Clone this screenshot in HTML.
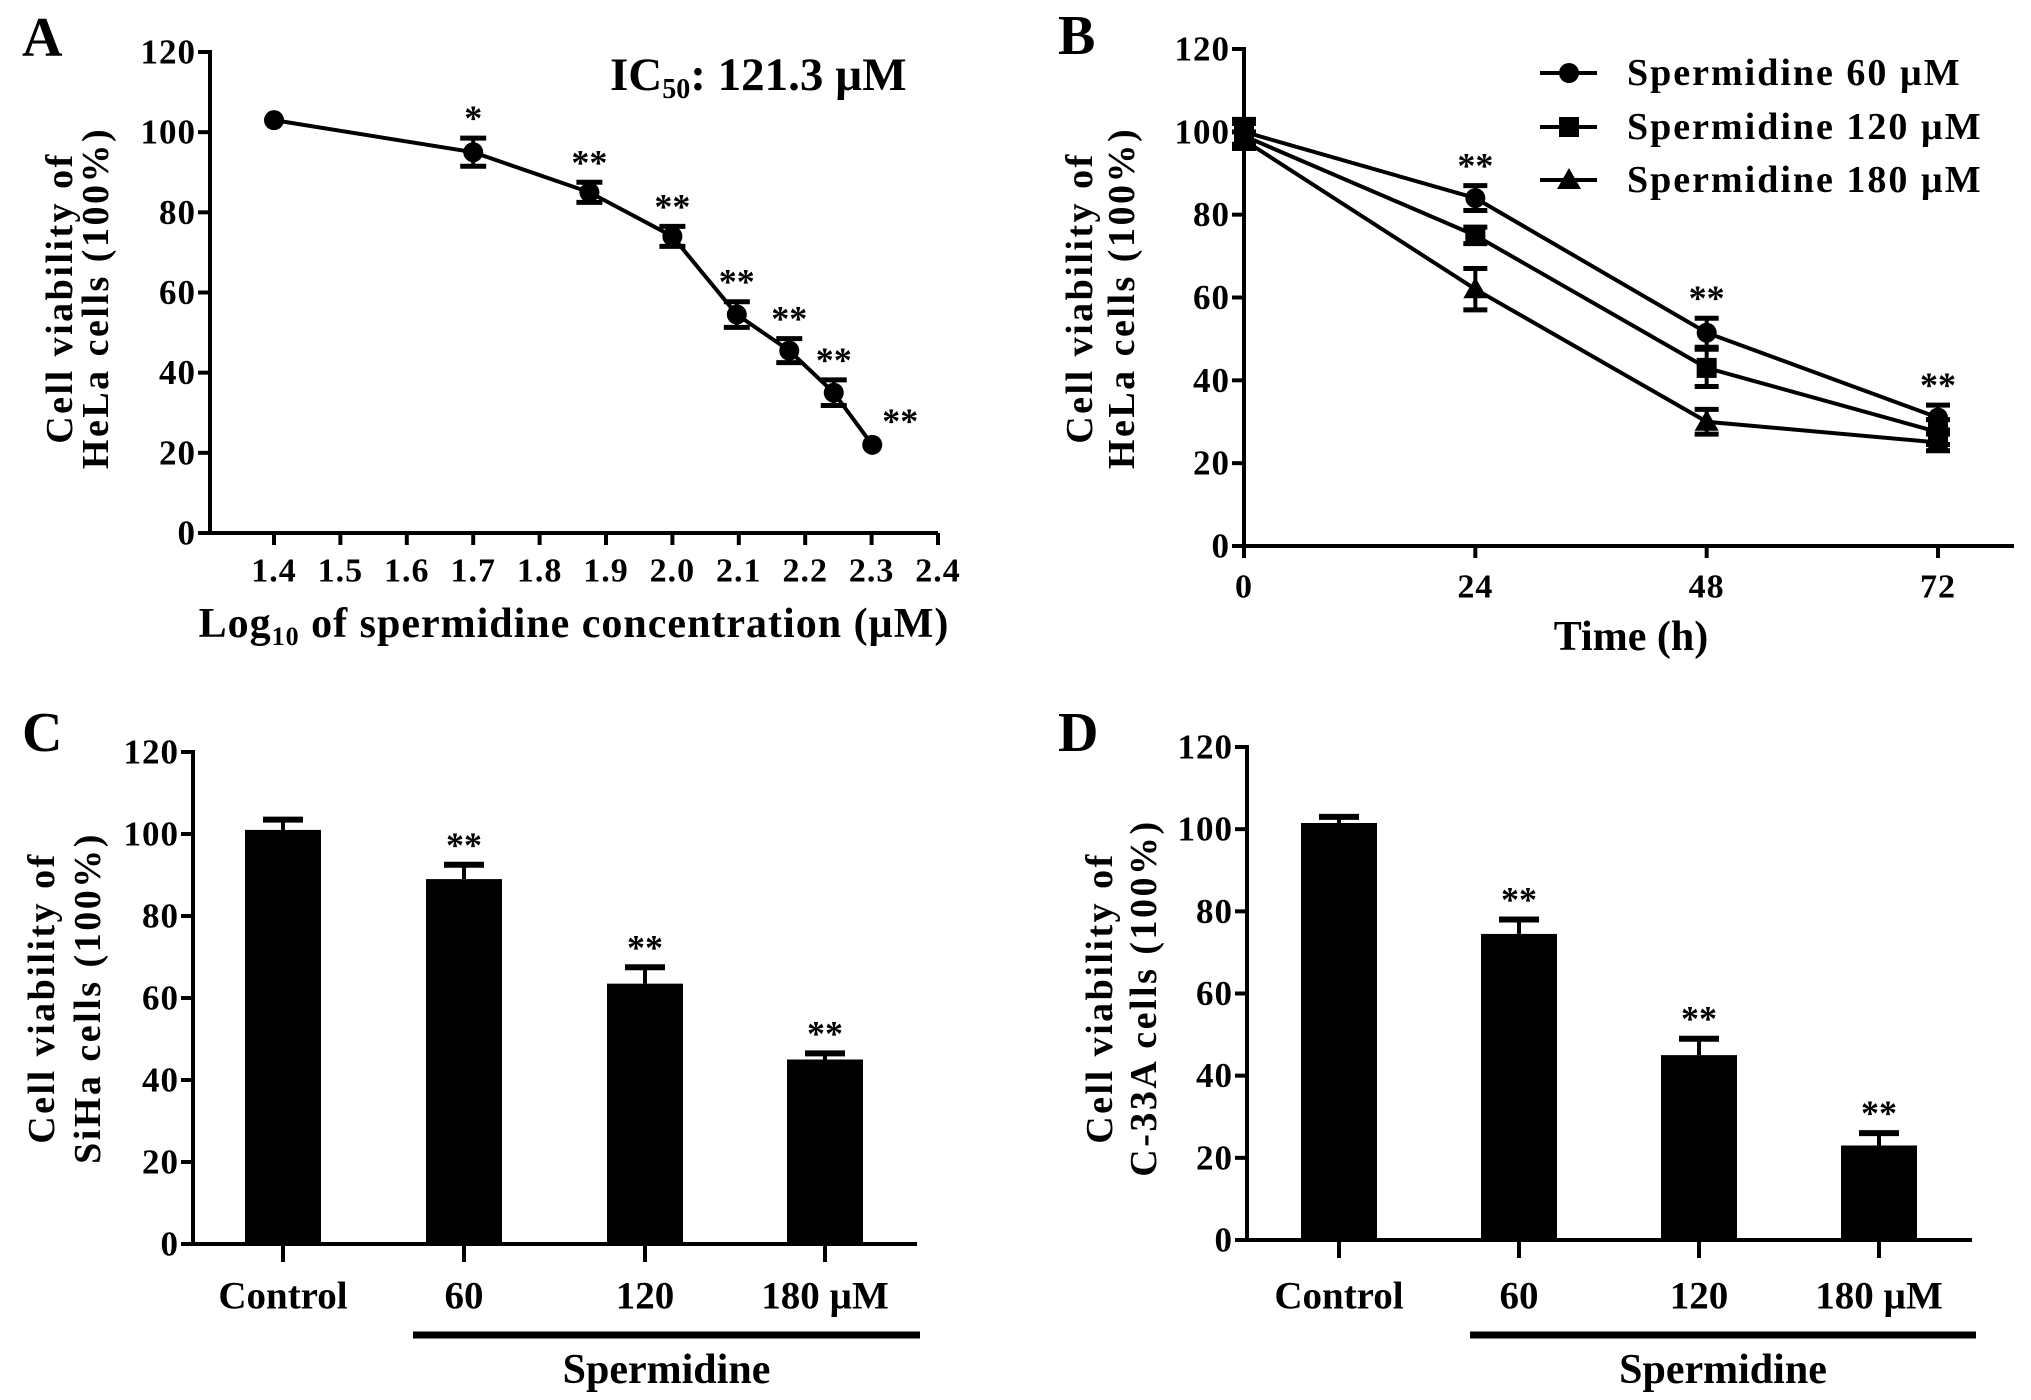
<!DOCTYPE html>
<html><head><meta charset="utf-8"><style>
html,body{margin:0;padding:0;background:#fff;}
svg{display:block;}
text{font-family:"Liberation Serif",serif;font-weight:bold;fill:#000;}
</style></head><body>
<svg id="fig" width="2031" height="1400" viewBox="0 0 2031 1400" xmlns="http://www.w3.org/2000/svg"></svg>
<script>
// Panel A data
const aX = [1.4, 1.7, 1.875, 2.0, 2.097, 2.176, 2.243, 2.301];
const aY = [103, 95, 85, 74, 54.5, 45.5, 35, 22];
const aErr = [0, 3.5, 2.5, 2.5, 3.2, 3, 3.2, 0];
const aSig = ["", "*", "**", "**", "**", "**", "**", "**"];
const aXTicks = ["1.4","1.5","1.6","1.7","1.8","1.9","2.0","2.1","2.2","2.3","2.4"];
const yTicks = [0,20,40,60,80,100,120];
// Panel B data
const bTimes = [0, 24, 48, 72];
const b60 = [100, 84, 51.5, 31];
const b120 = [99, 75, 43, 27.5];
const b180 = [98, 62, 30, 25];
const b60Err = [3, 3, 3.5, 3];
const b120Err = [3, 2, 4.5, 3];
const b180Err = [2, 5, 3, 2];
const bSig = ["", "**", "**", "**"];
// Panel C data
const cats = ["Control", "60", "120", "180 \u00b5M"];
const cVals = [101, 89, 63.5, 45];
const cErr = [2.5, 3.5, 4, 1.5];
const cSig = ["", "**", "**", "**"];
// Panel D data
const dVals = [101.5, 74.5, 45, 23];
const dErr = [1.5, 3.5, 4, 3];
const dSig = ["", "**", "**", "**"];

const NS = "http://www.w3.org/2000/svg";
const svg = document.getElementById("fig");
function el(tag, attrs, parent){ const e=document.createElementNS(NS,tag); for(const k in attrs) e.setAttribute(k,attrs[k]); (parent||svg).appendChild(e); return e; }
function txt(s, x, y, size, anchor, parent, extra){ const t=el("text",Object.assign({x:x,y:y,"font-size":size,"text-anchor":anchor||"middle","dominant-baseline":"central"},extra||{}),parent); t.textContent=s; return t; }
function line(x1,y1,x2,y2,w,parent){ return el("line",{x1:x1,y1:y1,x2:x2,y2:y2,stroke:"#000","stroke-width":w||4},parent); }

function yAxis(g, ax, y0, y120, xEnd){
  const sy = v => y0 + (y120-y0)*v/120;
  line(ax, y120-2, ax, y0+2, 4, g);
  line(ax-2, y0, xEnd, y0, 4, g);
  yTicks.forEach(v=>{
    line(ax-12, sy(v), ax, sy(v), 4, g);
    const t = txt(String(v), ax-14, sy(v), 35, "end", g, {"letter-spacing":"1"});
    
    
  });
  return sy;
}
function yTitle(g, l1, l2, x1, x2, cy){
  const t1 = txt(l1, 0, 0, 38, "middle", g, {transform:`translate(${x1},${cy}) rotate(-90)`, "letter-spacing":"2.5"});
  
  
  const t2 = txt(l2, 0, 0, 38, "middle", g, {transform:`translate(${x2},${cy}) rotate(-90)`, "letter-spacing":"2.5"});
  
  
}
function errBar(g, x, yTop, yBot, cap){
  line(x, yTop, x, yBot, 4, g);
  line(x-cap, yTop, x+cap, yTop, 5, g);
  line(x-cap, yBot, x+cap, yBot, 5, g);
}
function panelLetter(s, x, y){ const t=txt(s,x,y,56,"start",svg);   }

// ---------- Panel A ----------
(function(){
  const g = el("g",{});
  
  
  const ax=210, y0=533, y120=52;
  const sy = yAxis(g, ax, y0, y120, 938);
  const sx = v => 274 + (v-1.4)/1.0*(938-274);
  aXTicks.forEach(s=>{ const v=parseFloat(s); line(sx(v), y0, sx(v), y0+12, 4, g);
    const t=txt(s, sx(v), 571, 34, "middle", g, {"letter-spacing":"1"});
    
     });
  const xt = el("text",{x:574,y:624,"font-size":42,"text-anchor":"middle","dominant-baseline":"central","letter-spacing":"1"},g);
  xt.innerHTML = 'Log<tspan font-size="26" dy="12">10</tspan><tspan dy="-12"> of spermidine concentration (\u00b5M)</tspan>';
  
  
  yTitle(g, "Cell viability of", "HeLa cells (100%)", 60, 96, 298);
  const ic = el("text",{x:610,y:75,"font-size":47,"text-anchor":"start","dominant-baseline":"central"},g);
  ic.innerHTML = 'IC<tspan font-size="28" dy="14">50</tspan><tspan dy="-14">:  121.3 \u00b5M</tspan>';
  
  
  const pts = aX.map((x,i)=>sx(x)+","+sy(aY[i])).join(" ");
  const pl = el("polyline",{points:pts,fill:"none",stroke:"#000","stroke-width":4},g);
  
  
  aX.forEach((x,i)=>{
    const cx=sx(x), cy=sy(aY[i]);
    if(aErr[i]>0) errBar(g, cx, sy(aY[i]+aErr[i]), sy(aY[i]-aErr[i]), 13);
    const c = el("circle",{cx:cx,cy:cy,r:10,fill:"#000"},g);
    
    
    if(aSig[i]){ const last = i===aX.length-1;
      const t=txt(aSig[i], last?cx+28:cx, last?cy-24:sy(aY[i]+aErr[i])-20, 36, "middle", g);
      
       }
  });
})();
panelLetter("A", 22, 38);

// ---------- Panel B ----------
(function(){
  const g = el("g",{});
  
  
  const ax=1244, y0=546, y120=49;
  const sy = yAxis(g, ax, y0, y120, 2014);
  const sx = t => 1244 + t/72*(1938-1244);
  bTimes.forEach(t=>{ line(sx(t), y0, sx(t), y0+12, 4, g);
    const l=txt(String(t), sx(t), 587, 34, "middle", g, {"letter-spacing":"1"});
    
     });
  const xt=txt("Time (h)", 1631, 637, 42, "middle", g);
  
  
  yTitle(g, "Cell viability of", "HeLa cells (100%)", 1080, 1122, 298);
  const series = [[b60,b60Err,"circle","series-60uM"],[b120,b120Err,"square","series-120uM"],[b180,b180Err,"triangle","series-180uM"]];
  function marker(shape, cx, cy, name){
    let m;
    if(shape==="circle") m=el("circle",{cx:cx,cy:cy,r:10,fill:"#000"},g);
    else if(shape==="square") m=el("rect",{x:cx-10,y:cy-10,width:20,height:20,fill:"#000"},g);
    else m=el("polygon",{points:`${cx},${cy-12} ${cx+12},${cy+9} ${cx-12},${cy+9}`,fill:"#000"},g);
    
    
  }
  series.forEach(s=>{
    const vals=s[0], err=s[1];
    const pl=el("polyline",{points:bTimes.map((t,i)=>sx(t)+","+sy(vals[i])).join(" "),fill:"none",stroke:"#000","stroke-width":4},g);
    
    
    bTimes.forEach((t,i)=>{ errBar(g, sx(t), sy(vals[i]+err[i]), sy(vals[i]-err[i]), 12); marker(s[2], sx(t), sy(vals[i]), s[3]+'-point'); });
  });
  bTimes.forEach((t,i)=>{ if(bSig[i]){ const top=Math.max(b60[i]+b60Err[i], b120[i]+b120Err[i], b180[i]+b180Err[i]);
    const l=txt(bSig[i], sx(t), sy(top)-20, 36, "middle", g);
    
     }});
  const labels=["Spermidine  60 \u00b5M","Spermidine  120 \u00b5M","Spermidine  180 \u00b5M"];
  const ly=[73,127,180], shapes=["circle","square","triangle"];
  labels.forEach((s,i)=>{
    line(1540, ly[i], 1597, ly[i], 4, g);
    marker(shapes[i], 1569, ly[i], 'legend-marker');
    const t=txt(s, 1627, ly[i], 38, "start", g, {"letter-spacing":"2", "xml:space":"preserve"});
    
    
  });
})();
panelLetter("B", 1058, 36);

// ---------- Bar panels ----------
function barPanel(name, vals, err, sig, ax, y0, y120, xEnd, centers, ul, title2, tx1, tx2){
  const g = el("g",{});
  
  
  const sy = yAxis(g, ax, y0, y120, xEnd);
  const bw = 76;
  cats.forEach((c,i)=>{
    const cx=centers[i];
    line(cx, y0, cx, y0+18, 4, g);
    const r=el("rect",{x:cx-bw/2,y:sy(vals[i]),width:bw,height:y0-sy(vals[i]),fill:"#000"},g);
    
    
    line(cx, sy(vals[i]), cx, sy(vals[i]+err[i]), 4, g);
    line(cx-20, sy(vals[i]+err[i]), cx+20, sy(vals[i]+err[i]), 6, g);
    if(sig[i]){ const t=txt(sig[i], cx, sy(vals[i]+err[i])-20, 36, "middle", g);
      
       }
    const l=txt(c, cx, 1296, 39, "middle", g);
    
    
  });
  const u=line(ul[0], 1335, ul[1], 1335, 7, g);
  
  
  const s=txt("Spermidine", (ul[0]+ul[1])/2, 1370, 42, "middle", g);
  
  
  yTitle(g, "Cell viability of", title2, tx1, tx2, 998);
}
barPanel("panel-c", cVals, cErr, cSig, 193, 1244, 752, 917, [283,464,645,825], [413,920], "SiHa cells  (100%)", 42, 88);
panelLetter("C", 22, 733);
barPanel("panel-d", dVals, dErr, dSig, 1247, 1240, 747, 1972, [1339,1519,1699,1879], [1470,1976], "C-33A cells  (100%)", 1100, 1144);
panelLetter("D", 1058, 733);
</script>
</body></html>
